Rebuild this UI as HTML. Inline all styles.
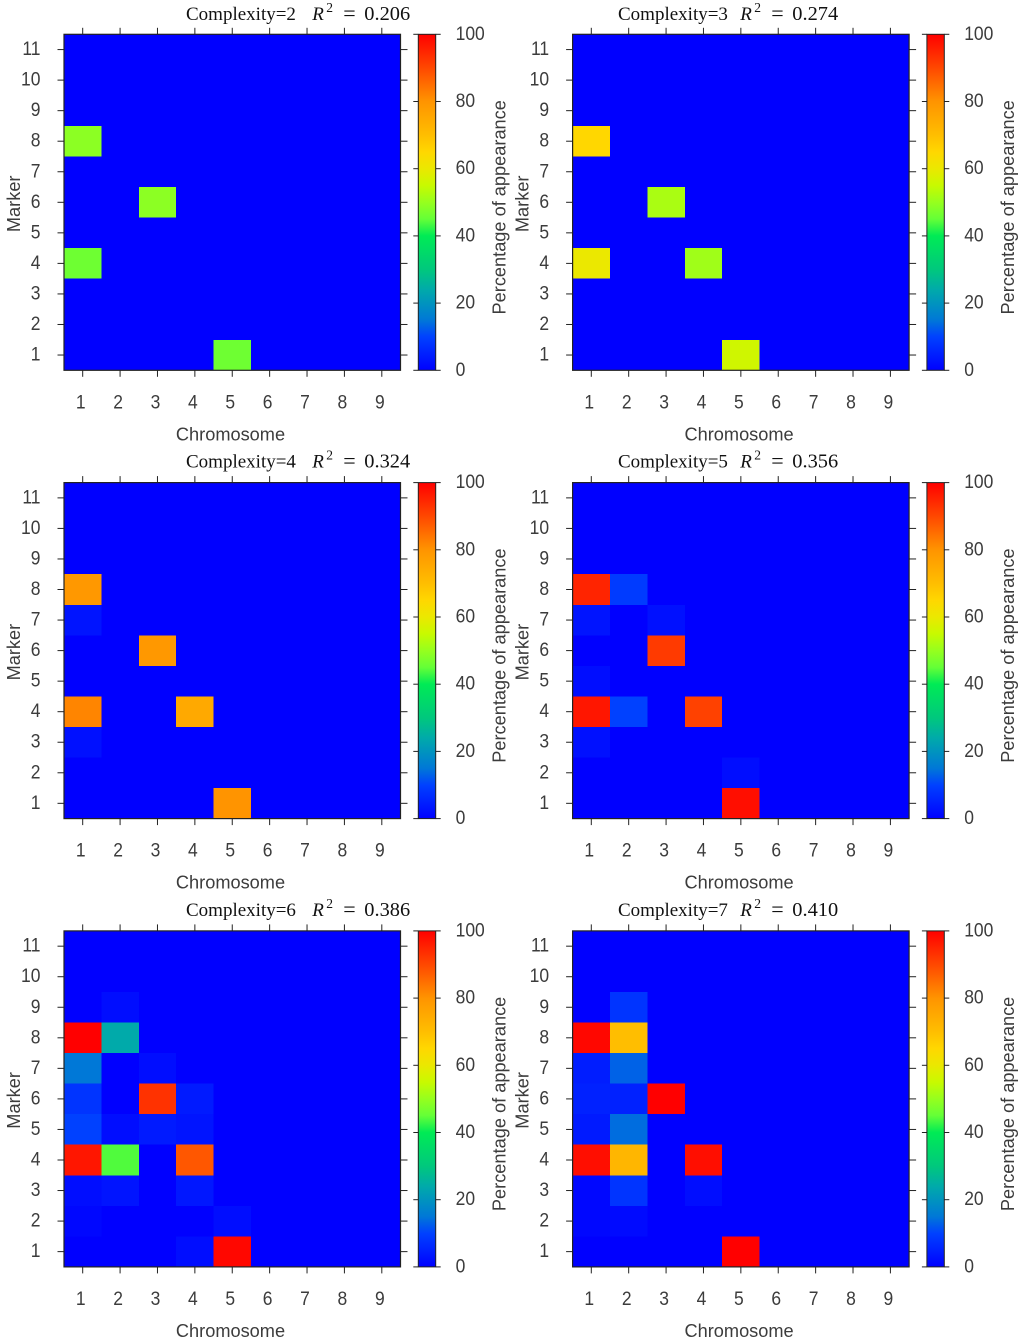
<!DOCTYPE html>
<html lang="en">
<head>
<meta charset="utf-8">
<title>Marker appearance heatmaps</title>
<style>
html,body{margin:0;padding:0;background:#fff;width:1024px;height:1342px;overflow:hidden}
svg{display:block;filter:blur(0.35px)}
.tick-label{font-family:"Liberation Sans",sans-serif;font-size:19px;fill:#3c3c3c}
.axis-label{font-family:"Liberation Sans",sans-serif;font-size:18.2px;fill:#3c3c3c}
.title-text{font-family:"Liberation Serif",serif;font-size:19px;fill:#111}
</style>
</head>
<body>
<svg id="chart" xmlns="http://www.w3.org/2000/svg" width="1024" height="1342" viewBox="0 0 1024 1342">
  <defs id="defs"></defs>
</svg>
<script>
// ---- data ----
const complexities = [2, 3, 4, 5, 6, 7];
const rSquared = [0.206, 0.274, 0.324, 0.356, 0.386, 0.410];
const chromosomes = [1, 2, 3, 4, 5, 6, 7, 8, 9];
const markers = [11, 10, 9, 8, 7, 6, 5, 4, 3, 2, 1];
const colorTicks = [0, 20, 40, 60, 80, 100];

// each matrix: rows follow `markers` (11 down to 1), columns follow `chromosomes`
const valuesC2 = [
  [0,0,0,0,0,0,0,0,0],
  [0,0,0,0,0,0,0,0,0],
  [0,0,0,0,0,0,0,0,0],
  [49,0,0,0,0,0,0,0,0],
  [0,0,0,0,0,0,0,0,0],
  [0,0,49,0,0,0,0,0,0],
  [0,0,0,0,0,0,0,0,0],
  [46,0,0,0,0,0,0,0,0],
  [0,0,0,0,0,0,0,0,0],
  [0,0,0,0,0,0,0,0,0],
  [0,0,0,0,46,0,0,0,0]
];
const valuesC3 = [
  [0,0,0,0,0,0,0,0,0],
  [0,0,0,0,0,0,0,0,0],
  [0,0,0,0,0,0,0,0,0],
  [65,0,0,0,0,0,0,0,0],
  [0,0,0,0,0,0,0,0,0],
  [0,0,52,0,0,0,0,0,0],
  [0,0,0,0,0,0,0,0,0],
  [60,0,0,51,0,0,0,0,0],
  [0,0,0,0,0,0,0,0,0],
  [0,0,0,0,0,0,0,0,0],
  [0,0,0,0,56,0,0,0,0]
];
const valuesC4 = [
  [0,0,0,0,0,0,0,0,0],
  [0,0,0,0,0,0,0,0,0],
  [0,0,0,0,0,0,0,0,0],
  [79,0,0,0,0,0,0,0,0],
  [3,0,0,0,0,0,0,0,0],
  [0,0,79,0,0,0,0,0,0],
  [0,0,0,0,0,0,0,0,0],
  [82,0,0,75,0,0,0,0,0],
  [2.5,0,0,0,0,0,0,0,0],
  [0,0,0,0,0,0,0,0,0],
  [0,0,0,0,80,0,0,0,0]
];
const valuesC5 = [
  [0,0,0,0,0,0,0,0,0],
  [0,0,0,0,0,0,0,0,0],
  [0,0,0,0,0,0,0,0,0],
  [95,9,0,0,0,0,0,0,0],
  [3,0,2.5,0,0,0,0,0,0],
  [0,0,92,0,0,0,0,0,0],
  [2,0,0,0,0,0,0,0,0],
  [97,10,0,91,0,0,0,0,0],
  [2.5,0,0,0,0,0,0,0,0],
  [0,0,0,0,2,0,0,0,0],
  [0,0,0,0,98,0,0,0,0]
];
const valuesC6 = [
  [0,0,0,0,0,0,0,0,0],
  [0,0,0,0,0,0,0,0,0],
  [0,2,0,0,0,0,0,0,0],
  [100,24,0,0,0,0,0,0,0],
  [15,0,2,0,0,0,0,0,0],
  [8,0,93,4,0,0,0,0,0],
  [10,2,4,3,0,0,0,0,0],
  [97,44,0,88,0,0,0,0,0],
  [2,3,0,3.5,0,0,0,0,0],
  [1,0,0,0,2,0,0,0,0],
  [0,0,0,2,99,0,0,0,0]
];
const valuesC7 = [
  [0,0,0,0,0,0,0,0,0],
  [0,0,0,0,0,0,0,0,0],
  [0,8,0,0,0,0,0,0,0],
  [99,70,0,0,0,0,0,0,0],
  [4.5,13,0,0,0,0,0,0,0],
  [5,5,100,0,0,0,0,0,0],
  [4,14,0,0,0,0,0,0,0],
  [98,72,0,98,0,0,0,0,0],
  [1,8,0,2,0,0,0,0,0],
  [1,1.5,0,0,0,0,0,0,0],
  [0,0,0,0,100,0,0,0,0]
];
const panelValues = [valuesC2, valuesC3, valuesC4, valuesC5, valuesC6, valuesC7];

// colour map: percentage -> rgb
const colorStopValues = [0, 10, 15, 24, 30, 40, 45, 50, 55, 60, 65, 70, 80, 90, 100];
const colorStopColors = [
  [0,0,255],[0,65,255],[0,120,215],[0,170,170],[0,200,125],[0,235,85],[100,255,55],[150,255,30],
  [200,250,0],[235,232,0],[255,215,0],[255,190,0],[255,148,0],[255,72,0],[255,0,0]
];

// ---- helpers ----
const svg = document.getElementById('chart');
const defs = document.getElementById('defs');
const NS = 'http://www.w3.org/2000/svg';
const TICK_SQUEEZE = 0.92;

function make(parent, tag, attrs, text) {
  const el = document.createElementNS(NS, tag);
  for (const k in attrs) el.setAttribute(k, attrs[k]);
  if (text !== undefined) el.textContent = text;
  parent.appendChild(el);
  return el;
}
function squeezed(x, y) {
  return 'translate(' + x + ',' + y + ') scale(' + TICK_SQUEEZE + ',1)';
}
function colorFor(v) {
  const c = Math.max(0, Math.min(100, v));
  let i = 0;
  while (i < colorStopValues.length - 2 && c > colorStopValues[i + 1]) i++;
  const t = (c - colorStopValues[i]) / (colorStopValues[i + 1] - colorStopValues[i]);
  const a = colorStopColors[i], b = colorStopColors[i + 1];
  return 'rgb(' + a.map((x, k) => Math.round(x + (b[k] - x) * t)).join(',') + ')';
}

// colour bar gradient
const gradient = make(defs, 'linearGradient', {id: 'colorbar-gradient', x1: 0, y1: 1, x2: 0, y2: 0});
colorStopValues.forEach(function (v) {
  make(gradient, 'stop', {offset: (v / 100), 'stop-color': colorFor(v)});
});

const AXIS = '#222';
const PANEL_W = 336.5, PANEL_H = 336;

function drawPanel(index) {
  const col = index % 2, row = Math.floor(index / 2);
  const left = 64 + col * 508.6;
  const top = 34.3 + row * 448.3;
  const right = left + PANEL_W, bottom = top + PANEL_H;
  const barL = left + 354.3, barR = barL + 17.4;

  const xScale = function (c) { return left + (c - 0.5) / chromosomes.length * PANEL_W; };
  const yScale = function (m) { return top + (markers.length + 0.5 - m) / markers.length * PANEL_H; };
  const cScale = function (v) { return bottom - v / 100 * PANEL_H; };

  const g = make(svg, 'g', {});
  
  

  // heatmap cells
  const cellGroup = make(g, 'g', {});
  
  
  const matrix = panelValues[index];
  const cellW = xScale(2) - xScale(1), cellH = yScale(1) - yScale(2);
  markers.forEach(function (m, r) {
    chromosomes.forEach(function (c, k) {
      const cell = make(cellGroup, 'rect', {
        x: xScale(c) - cellW / 2, y: yScale(m) - cellH / 2,
        width: cellW, height: cellH, fill: colorFor(matrix[r][k]),
        'shape-rendering': 'crispEdges'
      });
      
      
    });
  });

  // frame
  const frame = make(g, 'rect', {x: left, y: top, width: PANEL_W, height: PANEL_H, fill: 'none', stroke: AXIS, 'stroke-width': 1.2});
  
  

  // x ticks + labels
  chromosomes.forEach(function (c) {
    const x = xScale(c);
    const t1 = make(g, 'line', {x1: x, x2: x, y1: top - 6.5, y2: top, stroke: AXIS, 'stroke-width': 1});
    
    
    const t2 = make(g, 'line', {x1: x, x2: x, y1: bottom, y2: bottom + 6.5, stroke: AXIS, 'stroke-width': 1});
    
    
    const lab = make(g, 'text', {transform: squeezed(x - 2, bottom + 38), 'text-anchor': 'middle', 'class': 'tick-label'}, String(c));
    
    
  });

  // y ticks + labels
  markers.forEach(function (m) {
    const y = yScale(m);
    const t1 = make(g, 'line', {x1: left - 6.5, x2: left, y1: y, y2: y, stroke: AXIS, 'stroke-width': 1});
    
    
    const t2 = make(g, 'line', {x1: right, x2: right + 7, y1: y, y2: y, stroke: AXIS, 'stroke-width': 1});
    
    
    const lab = make(g, 'text', {transform: squeezed(left - 23.5, y + 5.5), 'text-anchor': 'end', 'class': 'tick-label'}, String(m));
    
    
  });

  // axis labels
  const xTitle = make(g, 'text', {x: left + 166.5, y: bottom + 70, 'text-anchor': 'middle', 'class': 'axis-label'}, 'Chromosome');
  
  
  const yTitle = make(g, 'text', {transform: 'translate(' + (left - 44) + ',' + (top + 169.5) + ') rotate(-90)', 'text-anchor': 'middle', 'class': 'axis-label'}, 'Marker');
  
  

  // colour bar
  const bar = make(g, 'rect', {x: barL, y: top, width: barR - barL, height: PANEL_H, fill: 'url(#colorbar-gradient)', stroke: AXIS, 'stroke-width': 1});
  
  
  colorTicks.forEach(function (v) {
    const y = cScale(v);
    const t1 = make(g, 'line', {x1: barL - 5, x2: barL, y1: y, y2: y, stroke: AXIS, 'stroke-width': 1});
    
    
    const t2 = make(g, 'line', {x1: barR, x2: barR + 5, y1: y, y2: y, stroke: AXIS, 'stroke-width': 1});
    
    
    const lab = make(g, 'text', {transform: squeezed(barL + 37.3, y + 5.5), 'class': 'tick-label'}, String(v));
    
    
  });
  const barTitle = make(g, 'text', {transform: 'translate(' + (left + 441.3) + ',' + (top + 173) + ') rotate(-90)', 'text-anchor': 'middle', 'class': 'axis-label'}, 'Percentage of appearance');
  
  

  // title
  const titleY = row === 0 ? top - 14.5 : top - 15;
  const tx = 186 + col * 432;
  const rx = 312.3 + col * 428;
  const title = make(g, 'text', {x: tx, y: titleY, 'class': 'title-text'}, 'Complexity=' + complexities[index]);
  
  
  const rSym = make(g, 'text', {x: rx, y: titleY, 'class': 'title-text', 'font-style': 'italic'}, 'R');
  
  
  const rSup = make(g, 'text', {x: rx + 14, y: titleY - 8, 'class': 'title-text', style: 'font-size:13.5px'}, '2');
  
  
  const rEq = make(g, 'text', {x: rx + 31, y: titleY + 0.5, 'class': 'title-text', style: 'font-size:22px'}, '=');
  
  
  const rVal = make(g, 'text', {x: rx + 52, y: titleY, 'class': 'title-text', style: 'font-size:20.4px'}, rSquared[index].toFixed(3));
  
  
}

complexities.forEach(function (c, i) { drawPanel(i); });
</script>
</body>
</html>
